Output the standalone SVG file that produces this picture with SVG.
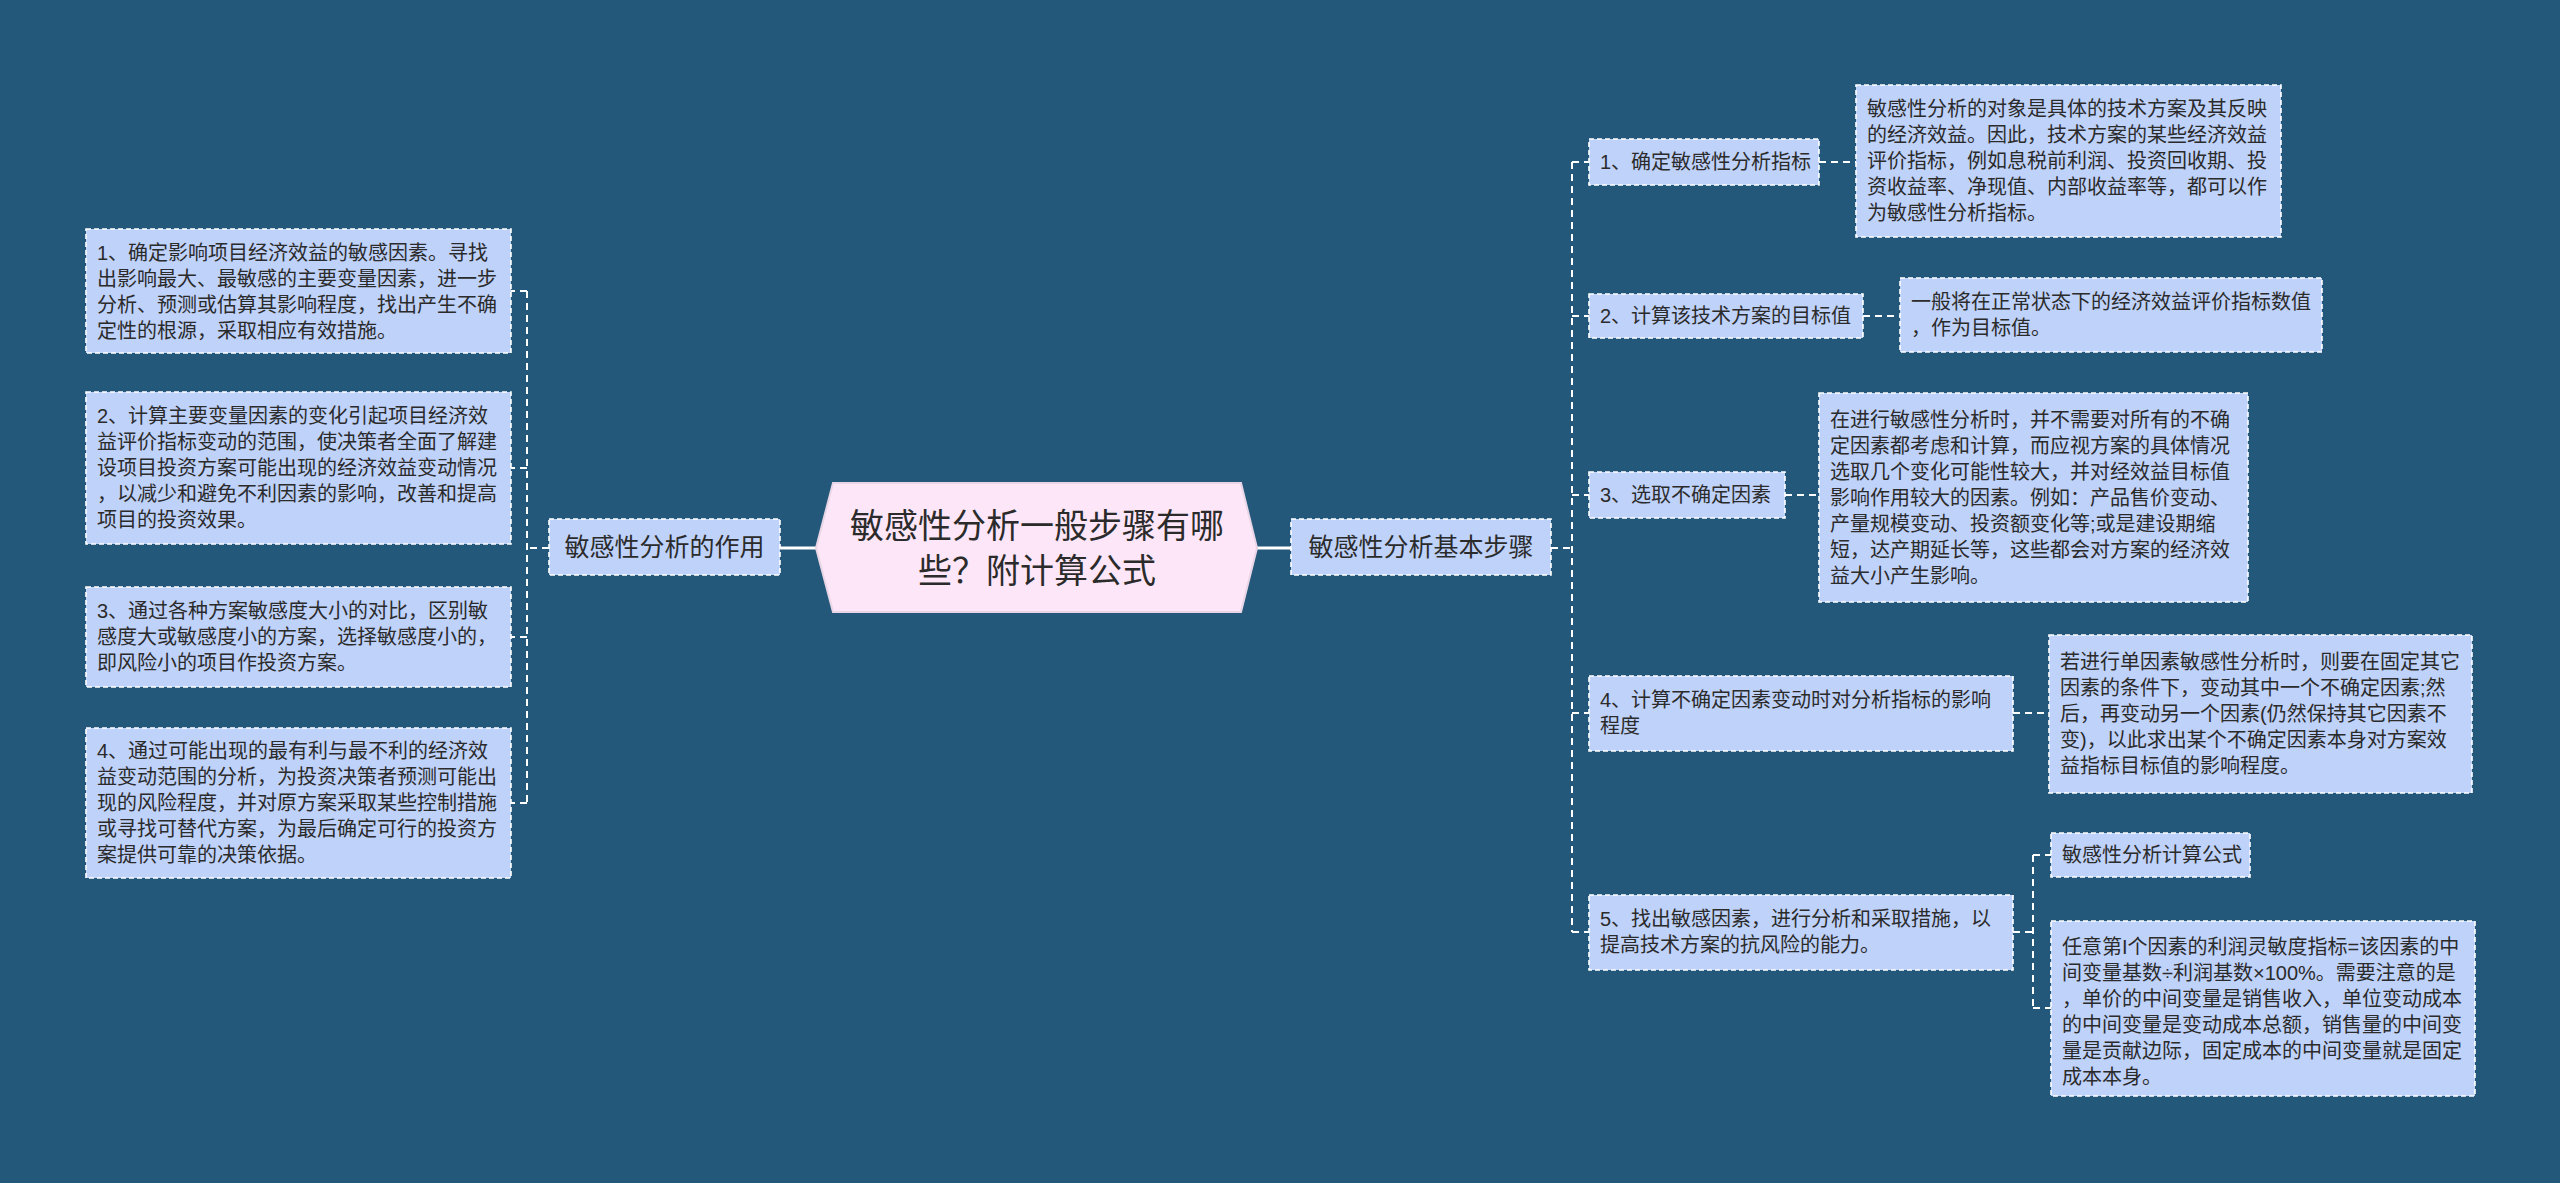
<svg xmlns="http://www.w3.org/2000/svg" width="2560" height="1183" viewBox="0 0 2560 1183">
<style>
text{font-family:"Liberation Sans","Noto Sans CJK SC",sans-serif;fill:#2b2b2b}
.b{fill:#bfd2fa;stroke:#ffffff;stroke-width:1.6;stroke-dasharray:5 3}
.t{font-size:20px}
.m{font-size:25px}
.r{font-size:34px}
.c{fill:none;stroke:#ffffff;stroke-width:2;stroke-dasharray:7 5}
.s{fill:none;stroke:#ffffff;stroke-width:3}
</style>
<rect width="2560" height="1183" fill="#24587a"/>
<g id="connectors">
<line class="s" x1="780" y1="548" x2="816" y2="548"/>
<line class="s" x1="1257" y1="548" x2="1291" y2="548"/>
<path class="c" d="M549 548H527M527 291V803M527 291H511M527 468H511M527 637H511M527 803H511"/>
<path class="c" d="M1551 548H1572M1572 162V932M1572 162H1589M1572 316H1589M1572 495H1589M1572 713H1589M1572 932H1589"/>
<path class="c" d="M1819 162H1856M1863 316H1900M1785 495H1819M2013 713H2049M2013 932H2033M2033 855V1008M2033 855H2051M2033 1008H2051"/>
</g>
<g id="root">
<polygon points="816,548 833,483 1241,483 1257,548 1241,612 833,612" fill="#fde6f7" stroke="#e8d6e6" stroke-width="2"/>
<text class="r" x="1037" y="538" text-anchor="middle">敏感性分析一般步骤有哪</text>
<text class="r" x="1037" y="583" text-anchor="middle">些？附计算公式</text>
</g>
<g id="left-main">
<rect class="b" x="549" y="519" width="231" height="56"/>
<text class="m" x="664.5" y="556" text-anchor="middle">敏感性分析的作用</text>
</g>
<g id="right-main">
<rect class="b" x="1291" y="519" width="260" height="56"/>
<text class="m" x="1421" y="556" text-anchor="middle">敏感性分析基本步骤</text>
</g>
<g id="l1">
<rect class="b" x="86" y="229" width="425" height="124"/>
<text class="t" x="97" y="260">1、确定影响项目经济效益的敏感因素。寻找</text>
<text class="t" x="97" y="286">出影响最大、最敏感的主要变量因素，进一步</text>
<text class="t" x="97" y="312">分析、预测或估算其影响程度，找出产生不确</text>
<text class="t" x="97" y="338">定性的根源，采取相应有效措施。</text>
</g>
<g id="l2">
<rect class="b" x="86" y="392" width="425" height="152"/>
<text class="t" x="97" y="423">2、计算主要变量因素的变化引起项目经济效</text>
<text class="t" x="97" y="449">益评价指标变动的范围，使决策者全面了解建</text>
<text class="t" x="97" y="475">设项目投资方案可能出现的经济效益变动情况</text>
<text class="t" x="97" y="501">，以减少和避免不利因素的影响，改善和提高</text>
<text class="t" x="97" y="527">项目的投资效果。</text>
</g>
<g id="l3">
<rect class="b" x="86" y="587" width="425" height="100"/>
<text class="t" x="97" y="618">3、通过各种方案敏感度大小的对比，区别敏</text>
<text class="t" x="97" y="644">感度大或敏感度小的方案，选择敏感度小的，</text>
<text class="t" x="97" y="670">即风险小的项目作投资方案。</text>
</g>
<g id="l4">
<rect class="b" x="86" y="728" width="425" height="150"/>
<text class="t" x="97" y="758">4、通过可能出现的最有利与最不利的经济效</text>
<text class="t" x="97" y="784">益变动范围的分析，为投资决策者预测可能出</text>
<text class="t" x="97" y="810">现的风险程度，并对原方案采取某些控制措施</text>
<text class="t" x="97" y="836">或寻找可替代方案，为最后确定可行的投资方</text>
<text class="t" x="97" y="862">案提供可靠的决策依据。</text>
</g>
<g id="r1">
<rect class="b" x="1589" y="139" width="230" height="46"/>
<text class="t" x="1600" y="169">1、确定敏感性分析指标</text>
</g>
<g id="r1d">
<rect class="b" x="1856" y="85" width="425" height="152"/>
<text class="t" x="1867" y="116">敏感性分析的对象是具体的技术方案及其反映</text>
<text class="t" x="1867" y="142">的经济效益。因此，技术方案的某些经济效益</text>
<text class="t" x="1867" y="168">评价指标，例如息税前利润、投资回收期、投</text>
<text class="t" x="1867" y="194">资收益率、净现值、内部收益率等，都可以作</text>
<text class="t" x="1867" y="220">为敏感性分析指标。</text>
</g>
<g id="r2">
<rect class="b" x="1589" y="294" width="274" height="44"/>
<text class="t" x="1600" y="323">2、计算该技术方案的目标值</text>
</g>
<g id="r2d">
<rect class="b" x="1900" y="278" width="422" height="74"/>
<text class="t" x="1911" y="309">一般将在正常状态下的经济效益评价指标数值</text>
<text class="t" x="1911" y="335">，作为目标值。</text>
</g>
<g id="r3">
<rect class="b" x="1589" y="472" width="196" height="46"/>
<text class="t" x="1600" y="502">3、选取不确定因素</text>
</g>
<g id="r3d">
<rect class="b" x="1819" y="393" width="429" height="209"/>
<text class="t" x="1830" y="427">在进行敏感性分析时，并不需要对所有的不确</text>
<text class="t" x="1830" y="453">定因素都考虑和计算，而应视方案的具体情况</text>
<text class="t" x="1830" y="479">选取几个变化可能性较大，并对经效益目标值</text>
<text class="t" x="1830" y="505">影响作用较大的因素。例如：产品售价变动、</text>
<text class="t" x="1830" y="531">产量规模变动、投资额变化等;或是建设期缩</text>
<text class="t" x="1830" y="557">短，达产期延长等，这些都会对方案的经济效</text>
<text class="t" x="1830" y="583">益大小产生影响。</text>
</g>
<g id="r4">
<rect class="b" x="1589" y="676" width="424" height="75"/>
<text class="t" x="1600" y="707">4、计算不确定因素变动时对分析指标的影响</text>
<text class="t" x="1600" y="733">程度</text>
</g>
<g id="r4d">
<rect class="b" x="2049" y="635" width="423" height="158"/>
<text class="t" x="2060" y="669">若进行单因素敏感性分析时，则要在固定其它</text>
<text class="t" x="2060" y="695">因素的条件下，变动其中一个不确定因素;然</text>
<text class="t" x="2060" y="721">后，再变动另一个因素(仍然保持其它因素不</text>
<text class="t" x="2060" y="747">变)，以此求出某个不确定因素本身对方案效</text>
<text class="t" x="2060" y="773">益指标目标值的影响程度。</text>
</g>
<g id="r5">
<rect class="b" x="1589" y="895" width="424" height="75"/>
<text class="t" x="1600" y="926">5、找出敏感因素，进行分析和采取措施，以</text>
<text class="t" x="1600" y="952">提高技术方案的抗风险的能力。</text>
</g>
<g id="r5a">
<rect class="b" x="2051" y="833" width="199" height="44"/>
<text class="t" x="2062" y="862">敏感性分析计算公式</text>
</g>
<g id="r5b">
<rect class="b" x="2051" y="921" width="424" height="175"/>
<text class="t" x="2062" y="954">任意第I个因素的利润灵敏度指标=该因素的中</text>
<text class="t" x="2062" y="980">间变量基数÷利润基数×100%。需要注意的是</text>
<text class="t" x="2062" y="1006">，单价的中间变量是销售收入，单位变动成本</text>
<text class="t" x="2062" y="1032">的中间变量是变动成本总额，销售量的中间变</text>
<text class="t" x="2062" y="1058">量是贡献边际，固定成本的中间变量就是固定</text>
<text class="t" x="2062" y="1084">成本本身。</text>
</g>
</svg>
